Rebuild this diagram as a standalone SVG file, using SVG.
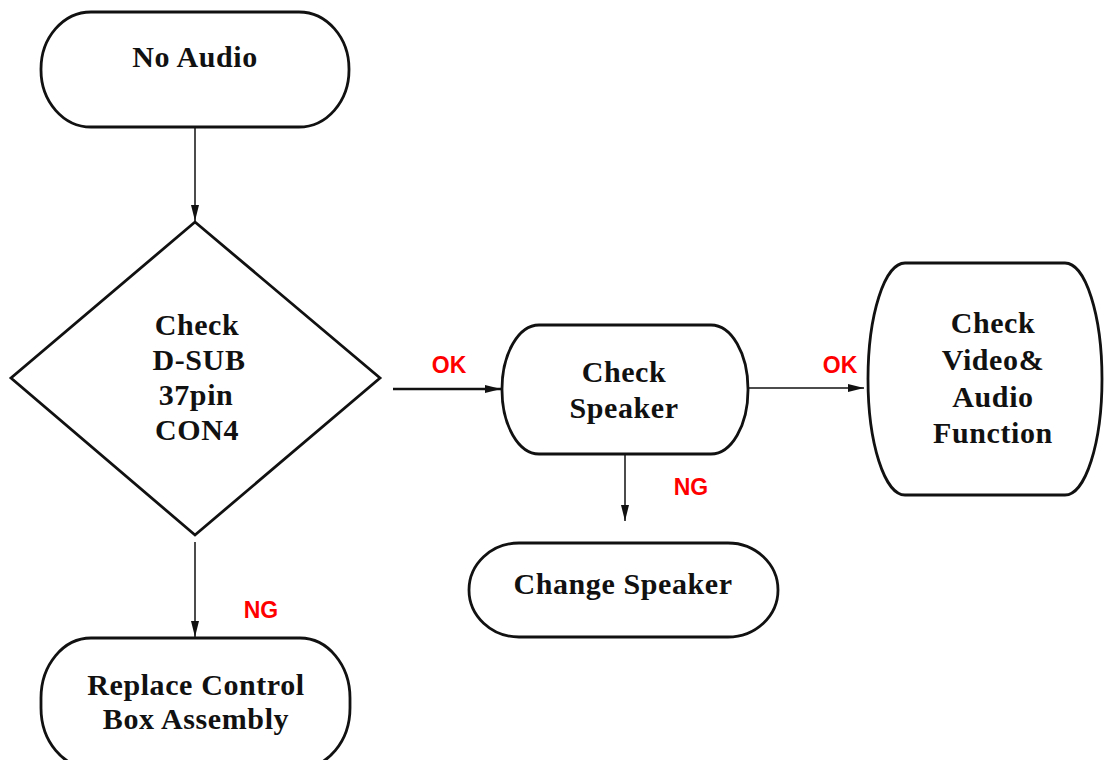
<svg xmlns="http://www.w3.org/2000/svg" width="1105" height="760" viewBox="0 0 1105 760">
<style>
.shape{fill:#fff;stroke:#111;stroke-width:2.8}
.t{font-family:"Liberation Serif","Times New Roman",serif;font-weight:bold;font-size:30px;letter-spacing:0.6px;fill:#111;text-anchor:middle}
.lbl{font-family:"Liberation Sans",Arial,sans-serif;font-weight:bold;font-size:23px;fill:#ff0000;text-anchor:middle}
.c{stroke:#111;stroke-width:1.5;fill:none}
</style>
<defs>
<marker id="ah" viewBox="0 0 16 8" refX="16" refY="4" markerWidth="16" markerHeight="8" markerUnits="userSpaceOnUse" orient="auto">
<path d="M0,0 L16,4 L0,8 Z" fill="#111"/>
</marker>
</defs>
<rect width="1105" height="760" fill="#fff"/>
<g id="connectors">
<line class="c" x1="195" y1="127" x2="195" y2="221" marker-end="url(#ah)"/>
<line class="c" x1="393" y1="389" x2="501" y2="389" style="stroke-width:2.6" marker-end="url(#ah)"/>
<line class="c" x1="748" y1="388" x2="864" y2="388" marker-end="url(#ah)"/>
<line class="c" x1="625" y1="454" x2="625" y2="521" marker-end="url(#ah)"/>
<line class="c" x1="195" y1="542" x2="195" y2="637" marker-end="url(#ah)"/>
<text class="lbl" x="449" y="373">OK</text>
<text class="lbl" x="840" y="373">OK</text>
<text class="lbl" x="691" y="495">NG</text>
<text class="lbl" x="261" y="618">NG</text>
</g>
<g id="no-audio">
<rect class="shape" x="41" y="12" width="308" height="115" rx="50" ry="57"/>
<text class="t" x="195" y="67">No Audio</text>
</g>
<g id="check-dsub">
<polygon class="shape" points="195,222 380,378 195,535 11,378"/>
<text class="t" x="197" y="335">Check</text>
<text class="t" x="199" y="370">D-SUB</text>
<text class="t" x="196" y="405">37pin</text>
<text class="t" x="197" y="440">CON4</text>
</g>
<g id="check-speaker">
<rect class="shape" x="502" y="325" width="246" height="129" rx="37" ry="64"/>
<text class="t" x="624" y="382">Check</text>
<text class="t" x="624" y="418">Speaker</text>
</g>
<g id="check-video">
<rect class="shape" x="868" y="263" width="234" height="232" rx="37" ry="116"/>
<text class="t" x="993" y="333">Check</text>
<text class="t" x="993" y="370">Video&amp;</text>
<text class="t" x="993" y="407">Audio</text>
<text class="t" x="993" y="443">Function</text>
</g>
<g id="change-speaker">
<rect class="shape" x="469" y="543" width="309" height="94" rx="50" ry="47"/>
<text class="t" x="623" y="594">Change Speaker</text>
</g>
<g id="replace-control">
<rect class="shape" x="41" y="638" width="309" height="130" rx="50" ry="60"/>
<text class="t" x="196" y="695">Replace Control</text>
<text class="t" x="196" y="729">Box Assembly</text>
</g>
</svg>
